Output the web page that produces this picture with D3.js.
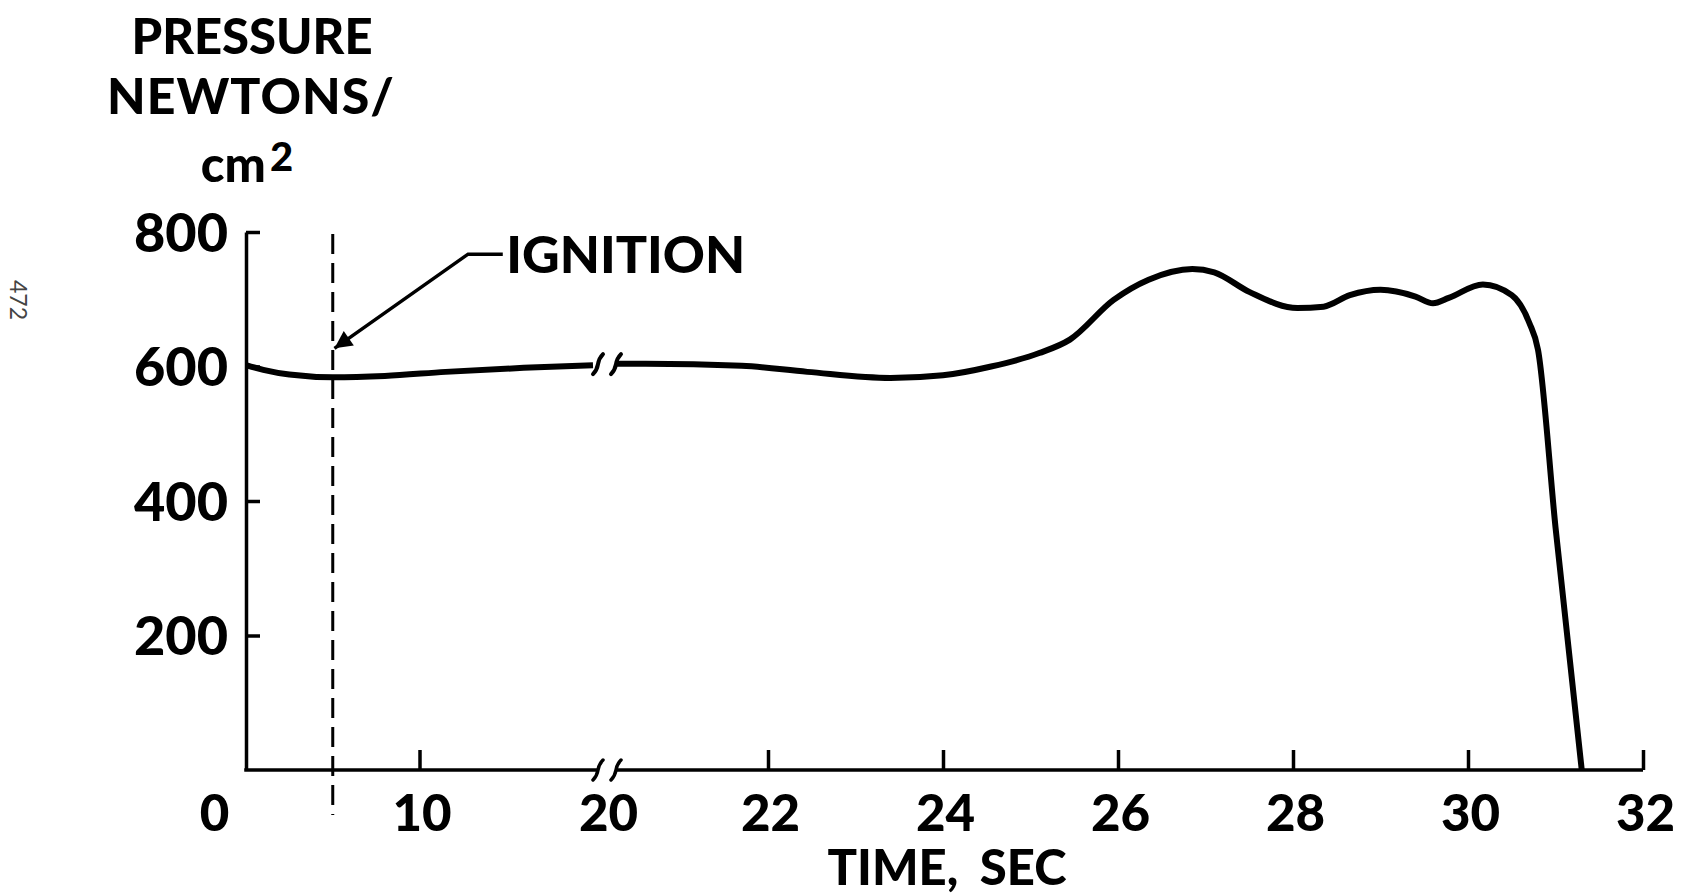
<!DOCTYPE html>
<html>
<head>
<meta charset="utf-8">
<script src="https://cdn.jsdelivr.net/npm/d3@7"></script>
<style>
  body { margin: 0; background: #fff; }
  svg { display: block; }
</style>
</head>
<body>
<div class="wrapper"></div>
<script>
// chamber pressure trace
// before the axis break (0 - 20 sec)
let timeA = [0, 1, 2.5, 5, 8, 11.5, 16, 20];
let pressA = [602, 595, 588, 584, 586, 592, 598, 602];
// after the axis break (20 - 32 sec)
let timeB = [20.26, 20.6, 21.7, 22.45, 23.4, 24.0, 24.55, 25.1, 25.45, 25.95, 26.35, 26.85, 27.1, 27.5, 28.05, 28.35, 28.65, 29.0, 29.4, 29.6, 29.78, 30.17, 30.5, 30.7, 30.8, 31.0, 31.3];
let pressB = [604, 604, 601, 592, 583, 587, 600, 620, 640, 699, 729, 745, 740, 711, 687, 689, 706, 714, 704, 694, 702, 722, 706, 665, 625, 361, 0];

let xTicks = [0, 10, 20, 22, 24, 26, 28, 30, 32];
let yTicks = [200, 400, 600, 800];
let breakTime = 20;
let ignitionTime = 5;
// annotation anchor points in data units
let labelAt = { t: 15, p: 767 };
let kneeAt = { t: 12.8, p: 767 };
let tipAt = { t: 5.1, p: 627 };

let width = 1681,
  height = 896;
let font = "Lato, 'Noto Sans', sans-serif";

svg = d3
  .select(".wrapper")
  .append("svg")
  .attr("width", width)
  .attr("height", height)
  .style("font-family", font)
  .style("font-weight", 900);

// broken time axis: 0-20 compressed, 20-32 stretched
x = d3.scaleLinear().domain([0, breakTime, 32]).range([246, 593, 1643]);
y = d3.scaleLinear().domain([0, 800]).range([770, 232]);

let gapL = x(breakTime) + 5,
  gapR = x(breakTime) + 23;

//////////////////////////
///////// TITLES /////////
//////////////////////////

svg.append("text").attr("x", 252).attr("y", 54).attr("text-anchor", "middle")
  .style("font-size", "49px").text("PRESSURE");
svg.append("text").attr("x", 251).attr("y", 114).attr("text-anchor", "middle")
  .style("font-size", "50px").attr("letter-spacing", "1px").text("NEWTONS/");
let cm = svg.append("text").attr("x", 247).attr("y", 182).attr("text-anchor", "middle")
  .style("font-size", "49px");
cm.append("tspan").text("cm");
cm.append("tspan").attr("dx", 4).attr("dy", -11).style("font-size", "40px").text("2");

svg.append("text")
  .attr("x", 947)
  .attr("y", 885)
  .attr("text-anchor", "middle")
  .style("font-size", "49px")
  .attr("word-spacing", "10px")
  .text("TIME,  SEC");

svg.append("text")
  .attr("transform", "translate(10,280) rotate(90)")
  .style("font-size", "23px")
  .style("font-weight", 400)
  .attr("fill", "#444")
  .text("472");

//////////////////////////
////////// AXES //////////
//////////////////////////

yAxis = svg
  .append("g")
  .attr("transform", "translate(" + x(0) + ",0)")
  .call(d3.axisLeft(y).tickValues(yTicks).tickSize(-14).tickSizeOuter(0).tickPadding(18));

yAxis.select(".domain").attr("stroke-width", 3.5);
yAxis.selectAll(".tick line").attr("stroke-width", 3.5);
yAxis.selectAll("text")
  .style("font-family", font)
  .style("font-size", "54px")
  .style("font-weight", 900)
  .attr("dy", "0.36em");

xAxis = svg
  .append("g")
  .attr("transform", "translate(0," + y(0) + ")")
  .call(d3.axisBottom(x).tickValues(xTicks).tickSize(-20).tickSizeOuter(0).tickPadding(24));

xAxis.select(".domain").remove();
xAxis.selectAll(".tick line").attr("stroke-width", 3.5)
  .filter((d) => d == 0 || d == breakTime).remove();
xAxis.selectAll("text")
  .style("font-family", font)
  .style("font-size", "51px")
  .style("font-weight", 900)
  .attr("dy", "0.73em")
  .attr("dx", (d) => (d == 0 ? -32 : d == breakTime ? 15 : 2));

// axis line in two pieces around the break
[[x(0) - 1.75, gapL], [gapR, x(32)]].forEach((seg) => {
  svg.append("line")
    .attr("x1", seg[0]).attr("x2", seg[1])
    .attr("y1", y(0)).attr("y2", y(0))
    .attr("stroke", "#000").attr("stroke-width", 3.5);
});

function breakMark(cx, cy) {
  return "M" + (cx - 5) + "," + (cy + 10) +
    " Q" + (cx - 1) + "," + (cy + 6) + " " + cx + "," + cy +
    " Q" + (cx + 1) + "," + (cy - 6) + " " + (cx + 5) + "," + (cy - 10);
}

function drawBreak(cy, w) {
  [gapL, gapR].forEach((cx) => {
    svg.append("path")
      .attr("d", breakMark(cx, cy))
      .attr("fill", "none")
      .attr("stroke", "#000")
      .attr("stroke-width", w)
      .attr("stroke-linecap", "round");
  });
}

drawBreak(y(0), 3.5);

//////////////////////////
///////// CURVE //////////
//////////////////////////

line = d3
  .line()
  .x((d) => x(d[0]))
  .y((d) => y(d[1]))
  .curve(d3.curveMonotoneX);

svg.append("path")
  .datum(d3.zip(timeA, pressA))
  .attr("d", line)
  .attr("fill", "none")
  .attr("stroke", "#000")
  .attr("stroke-width", 6);

svg.append("path")
  .datum(d3.zip(timeB, pressB))
  .attr("d", line)
  .attr("fill", "none")
  .attr("stroke", "#000")
  .attr("stroke-width", 6)
  .attr("stroke-linejoin", "round");

drawBreak(y(pressA[pressA.length - 1]) - 1, 4);

//////////////////////////
//////// IGNITION ////////
//////////////////////////

svg.append("line")
  .attr("x1", x(ignitionTime)).attr("x2", x(ignitionTime))
  .attr("y1", y(800) + 2).attr("y2", y(0) + 45)
  .attr("stroke", "#000")
  .attr("stroke-width", 3)
  .attr("stroke-dasharray", "20,9");

svg.append("defs")
  .append("marker")
  .attr("id", "arrow")
  .attr("viewBox", "0 0 10 10")
  .attr("refX", 10).attr("refY", 5)
  .attr("markerWidth", 6).attr("markerHeight", 5)
  .attr("markerUnits", "strokeWidth")
  .attr("orient", "auto")
  .append("path")
  .attr("d", "M0,0 L10,5 L0,10 z")
  .attr("fill", "#000");

svg.append("path")
  .attr("d", "M" + x(labelAt.t - 0.2) + "," + y(kneeAt.p) +
    " L" + x(kneeAt.t) + "," + y(kneeAt.p) +
    " L" + x(tipAt.t) + "," + y(tipAt.p))
  .attr("fill", "none")
  .attr("stroke", "#000")
  .attr("stroke-width", 3.5)
  .attr("marker-end", "url(#arrow)");

svg.append("text")
  .attr("x", x(labelAt.t))
  .attr("y", y(labelAt.p) + 19)
  .style("font-size", "52px")
  .text("IGNITION");
</script>
</body>
</html>
